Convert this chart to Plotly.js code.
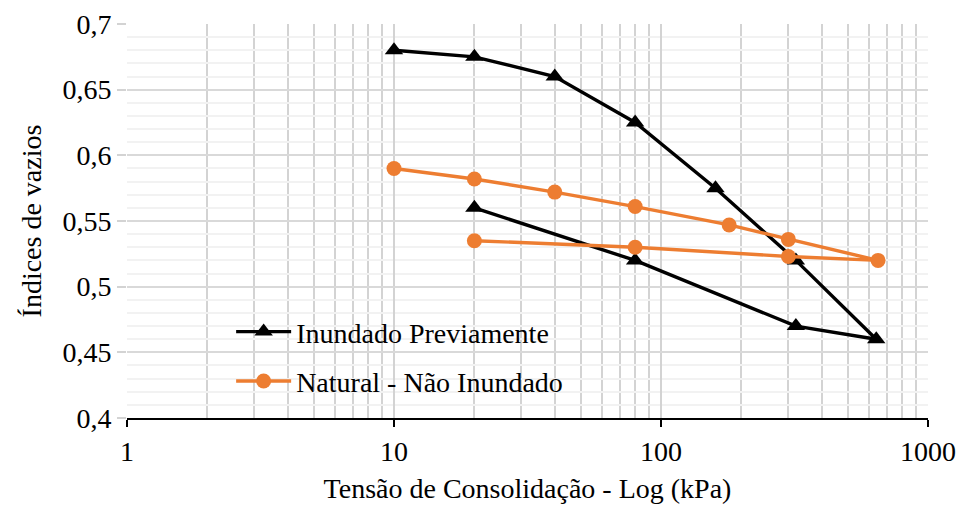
<!DOCTYPE html>
<html>
<head>
<meta charset="utf-8">
<script src="https://cdn.plot.ly/plotly-3.0.1.min.js"></script>
<style>
  html, body { margin: 0; padding: 0; background: #ffffff; }
  #chart { width: 960px; height: 507px; }
</style>
</head>
<body>
<div id="chart"></div>
<script>
// Curvas de adensamento: índice de vazios x tensão (escala log)
const inundadoTensao = [10, 20, 40, 80, 160, 320, 640, 320, 80, 20];
const inundadoVazios = [0.68, 0.675, 0.66, 0.625, 0.575, 0.52, 0.46, 0.47, 0.52, 0.56];

const naturalTensao = [10, 20, 40, 80, 180, 300, 650, 300, 80, 20];
const naturalVazios = [0.59, 0.582, 0.572, 0.561, 0.547, 0.536, 0.52, 0.523, 0.53, 0.535];

const xTicks = [1, 10, 100, 1000];
const xTickText = ['1', '10', '100', '1000'];
const xMinor = [2, 3, 4, 5, 6, 7, 8, 9, 20, 30, 40, 50, 60, 70, 80, 90,
                200, 300, 400, 500, 600, 700, 800, 900];

const fontFamily = '"Liberation Serif", "Times New Roman", serif';

const traces = [
  {
    x: inundadoTensao, y: inundadoVazios,
    name: 'Inundado Previamente',
    legendgroup: 'a',
    mode: 'lines+markers',
    line: { color: '#000000', width: 3.4 },
    marker: { symbol: 'triangle-up', size: 16, color: '#000000' }
  },
  {
    x: naturalTensao, y: naturalVazios,
    name: 'Natural - Não Inundado',
    legendgroup: 'b',
    mode: 'lines+markers',
    line: { color: '#ED7D31', width: 3.4 },
    marker: { symbol: 'circle', size: 15, color: '#ED7D31' }
  }
];

const layout = {
  width: 960, height: 507,
  margin: { l: 127, r: 32, t: 24, b: 89 },
  paper_bgcolor: '#ffffff',
  plot_bgcolor: '#ffffff',
  separators: ',.',
  font: { family: fontFamily, size: 28, color: '#000000' },
  showlegend: true,
  legend: {
    x: 0.13, y: 0.282, xanchor: 'left', yanchor: 'top',
    bgcolor: 'rgba(0,0,0,0)',
    font: { family: fontFamily, size: 28, color: '#000000' },
    traceorder: 'grouped',
    tracegroupgap: 10,
    itemwidth: 55
  },
  shapes: [
    {
      type: 'rect', xref: 'x domain', yref: 'y domain',
      x0: 0.0137, x1: 0.685, y0: 0.03, y1: 0.272,
      fillcolor: '#ffffff', line: { width: 0 }, layer: 'below'
    }
  ],
  xaxis: {
    type: 'log',
    range: [0, 3],
    tickmode: 'array',
    tickvals: xTicks,
    ticktext: xTickText,
    ticks: 'outside', ticklen: 7, tickwidth: 1.5, tickcolor: '#000000',
    showline: true, linecolor: '#000000', linewidth: 2,
    showgrid: true, gridcolor: '#d3d3d3', gridwidth: 2,
    minor: { tickmode: 'array', tickvals: xMinor, showgrid: true,
             gridcolor: '#d3d3d3', gridwidth: 2, ticks: '' },
    tickfont: { family: fontFamily, size: 28, color: '#000000' },
    title: { text: 'Tensão de Consolidação - Log (kPa)',
             font: { family: fontFamily, size: 28, color: '#000000' }, standoff: 13 },
    zeroline: false, fixedrange: true
  },
  yaxis: {
    range: [0.4, 0.7],
    dtick: 0.05,
    ticks: 'outside', ticklen: 9, tickcolor: '#d3d3d3', tickwidth: 2,
    showline: false,
    showgrid: true, gridcolor: '#d9d9d9', gridwidth: 2,
    minor: { dtick: 0.01, showgrid: true, gridcolor: '#f2f2f2', gridwidth: 2, ticks: '' },
    tickfont: { family: fontFamily, size: 28, color: '#000000' },
    title: { text: 'Índices de vazios',
             font: { family: fontFamily, size: 28, color: '#000000' }, standoff: 12 },
    zeroline: false, fixedrange: true
  }
};

Plotly.newPlot('chart', traces, layout, { displayModeBar: false, staticPlot: true });
</script>
</body>
</html>
